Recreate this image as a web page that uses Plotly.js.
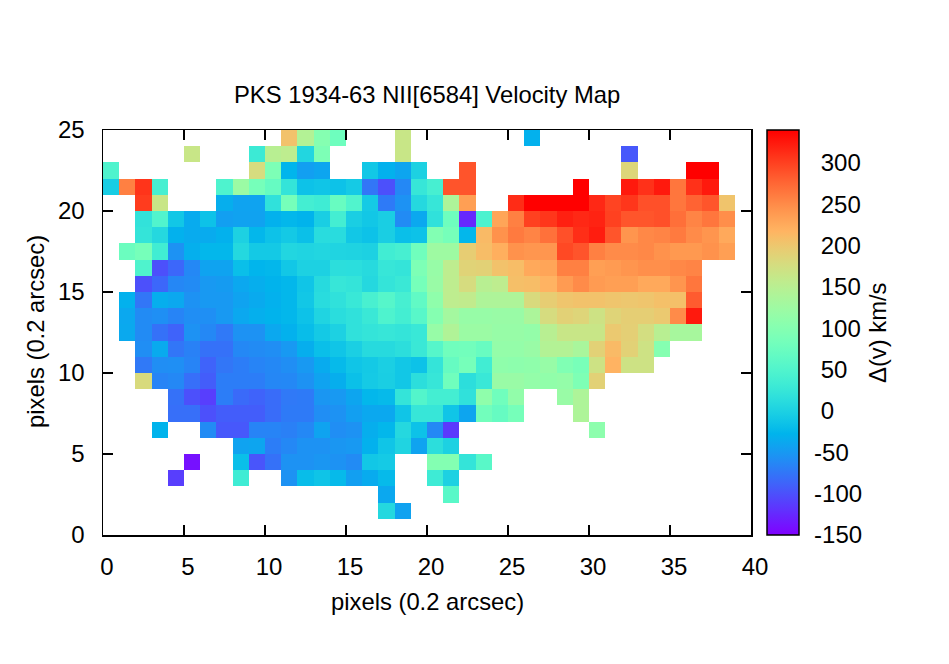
<!DOCTYPE html>
<html><head><meta charset="utf-8">
<script src="https://cdn.plot.ly/plotly-3.0.1.min.js"></script>
<style>html,body{margin:0;padding:0;background:#fff}#c{width:949px;height:664px}</style>
</head><body><div id="c"></div>
<script>
const n = null;
const row0  = [];
const row1  = [n,n,n,n,n,n,n,n,n,n,n,n,n,n,n,n,n,7,-43];
const row2  = [n,n,n,n,n,n,n,n,n,n,n,n,n,n,n,n,n,-38,n,n,n,58];
const row3  = [n,n,n,n,-112,n,n,n,33,n,n,-55,-20,-13,-22,-45,-35,-22,n,n,32,0];
const row4  = [n,n,n,n,n,-140,n,n,-18,-97,-78,-55,-55,-52,-55,-60,-10,-7,n,n,98,98,22,58];
const row5  = [n,n,n,n,n,n,n,n,-42,-40,-70,-62,-55,-55,-52,-50,-30,-12,3,-42,15,0];
const row6  = [n,n,n,-28,n,n,-60,-95,-95,-65,-65,-68,-62,-42,-58,-55,-33,-25,8,-15,-62,-115,n,n,n,n,n,n,n,n,108];
const row7  = [n,n,n,n,-80,-80,-100,-92,-92,-92,-82,-72,-72,-58,-55,-45,-38,-38,-12,25,25,-12,-40,82,70,85,n,n,n,140];
const row8  = [n,n,n,n,-78,-100,-112,-70,-83,-88,-82,-73,-72,-52,-50,-40,-25,-22,22,52,38,38,18,110,80,113,n,n,120,140];
const row9  = [n,n,180,-65,-62,-80,-92,-70,-70,-70,-63,-62,-55,-42,-33,-17,-7,-3,-10,15,25,80,15,27,120,120,115,112,115,93,190];
const row10 = [n,n,-73,-58,-57,-65,-88,-75,-70,-65,-62,-58,-50,-35,-22,-12,-8,-2,-10,-15,22,70,85,35,110,108,110,118,95,87,170,218,170,170];
const row11 = [n,n,-58,-36,-75,-67,-78,-78,-62,-60,-58,-50,-33,-18,-12,-2,10,10,15,28,55,80,82,72,115,115,120,145,145,135,190,212,190,170,100];
const row12 = [n,-37,-60,-78,-88,-55,-62,-73,-55,-55,-38,-30,-20,-8,0,18,22,25,22,27,118,142,122,122,118,118,115,150,165,165,165,198,192,175,150,133,133];
const row13 = [n,-38,-60,-57,-65,-58,-57,-50,-38,-32,-28,-25,-15,3,13,18,28,47,38,57,100,130,118,118,120,120,138,178,190,186,170,187,193,193,198,250,325];
const row14 = [n,-30,-75,-33,-38,-55,-50,-50,-42,-36,-30,-25,-10,12,18,27,42,55,40,65,110,155,158,140,140,140,180,195,202,205,205,202,200,202,207,207,283];
const row15 = [n,n,-100,-85,-63,-60,-50,-48,-38,-33,-28,-25,-12,10,25,22,8,22,28,85,120,155,178,150,155,208,210,218,238,250,238,235,235,227,227,243,265];
const row16 = [n,n,48,-100,-85,-62,-42,-42,-18,-27,-25,-10,0,0,15,14,10,25,22,92,118,155,188,190,205,210,227,230,258,258,235,238,243,247,247,252,255];
const row17 = [n,75,85,35,-55,-32,-25,-25,7,-8,-8,5,3,5,3,2,0,35,40,80,125,125,195,210,222,245,242,242,295,288,258,250,250,252,245,240,240,245,235];
const row18 = [n,n,22,8,-30,-35,-35,-30,0,-25,-15,-8,-17,12,12,-10,-15,-3,-18,-15,97,85,-25,212,245,262,255,268,290,312,322,287,243,252,255,262,250,243,227];
const row19 = [n,n,20,50,-10,-35,-15,-45,-43,-43,-30,-25,-28,-3,38,-3,-10,-3,-60,-38,18,78,-125,45,230,258,300,307,320,315,318,300,287,287,290,270,255,265,248];
const row20 = [n,n,303,165,n,n,n,-33,-42,-42,18,85,38,33,72,50,-7,-72,-55,8,25,140,235,n,n,313,340,340,340,340,315,298,307,290,290,265,278,287,203];
const row21 = [-5,258,308,40,n,n,n,47,122,85,70,22,-15,-12,-15,-7,-75,-100,-62,25,40,288,288,n,n,n,n,n,n,340,n,n,325,310,325,265,310,325];
const row22 = [48,n,n,n,n,n,n,n,n,178,92,-27,-45,-40,n,n,-10,-30,-40,0,n,n,288,n,n,n,n,n,n,n,n,n,185,n,n,n,340,340];
const row23 = [n,n,n,n,n,165,n,n,n,30,150,155,5,92,n,n,n,n,165,n,n,n,n,n,n,n,n,n,n,n,n,n,-95];
const row24 = [n,n,n,n,n,n,n,n,n,n,n,205,145,100,78,n,n,n,165,n,n,n,n,n,n,n,-30];

const rows = [row0,row1,row2,row3,row4,row5,row6,row7,row8,row9,row10,row11,row12,
              row13,row14,row15,row16,row17,row18,row19,row20,row21,row22,row23,row24];
const xTicks = [0,5,10,15,20,25,30,35,40];
const yTicks = [0,5,10,15,20,25];
const cbTicks = [-150,-100,-50,0,50,100,150,200,250,300];
const titleText = 'PKS 1934-63 NII[6584] Velocity Map';
const xTitle = 'pixels (0.2 arcsec)';
const yTitle = 'pixels (0.2 arcsec)';
const cbTitle = '\u0394(v) km/s';
const zMin = -150, zMax = 340;
const cols = 40;

// gnuplot "rgbformulae 33,13,10" palette
const colorscale = [];
for (let i = 0; i <= 64; i++) {
  const t = i / 64;
  const r = Math.min(1, Math.abs(2 * t - 0.5));
  const g = Math.sin(Math.PI * t);
  const b = Math.max(0, Math.cos(Math.PI * t / 2));
  colorscale.push([t, `rgb(${Math.round(r*255)},${Math.round(g*255)},${Math.round(b*255)})`]);
}

const z = rows.map(r => Array.from({length: cols}, (_, i) => (r[i] === undefined ? null : r[i])));
const W = 949, H = 664, L = 103, R = 751, T = 130, B = 535;
const pw = R - L, ph = B - T;
const fontFam = '"Liberation Sans", Arial, sans-serif';
const fs = 24, fsTitle = 23.8;
const cbX = (767 - L) / pw, cbW = 32 / pw;

const trace = {
  type: 'heatmap', z, x0: 0.5, dx: 1, y0: 0.5, dy: 1,
  zmin: zMin, zmax: zMax, colorscale, hoverongaps: false, xgap: 0, ygap: 0,
  colorbar: {
    x: cbX, xanchor: 'left', xref: 'paper', y: 0, yanchor: 'bottom', yref: 'paper',
    lenmode: 'fraction', len: 1, thicknessmode: 'pixels', thickness: cbW * pw,
    xpad: 0, ypad: 0, outlinecolor: '#000', outlinewidth: 1.5,
    tickmode: 'array', tickvals: cbTicks,
    ticktext: cbTicks.map(v => (v < 0 ? String(v) : '\u00A0' + v)),
    ticks: 'outside', ticklen: 10, tickwidth: 1, tickcolor: 'rgba(0,0,0,0)',
    tickfont: {family: fontFam, size: fs, color: '#000'}
  }
};

const axis = {
  showgrid: false, zeroline: false, showline: true, linecolor: '#000', linewidth: 1.5,
  mirror: 'ticks', ticks: 'inside', ticklen: 10, tickwidth: 1.5, tickcolor: '#000',
  tickfont: {family: fontFam, size: fs, color: '#000'}, automargin: false
};

// colour-box ticks on both inner edges
const cbTickLine = (v, a, b) => {
  const yy = (v - zMin) / (zMax - zMin);
  return {type: 'line', xref: 'paper', yref: 'paper', x0: a, x1: b, y0: yy, y1: yy,
          line: {color: '#000', width: 1.5}};
};
const shapes = [];
cbTicks.slice(1).forEach(v => {
  shapes.push(cbTickLine(v, cbX, cbX + 8 / pw));
  shapes.push(cbTickLine(v, cbX + cbW - 8 / pw, cbX + cbW));
});

const layout = {
  width: W, height: H, paper_bgcolor: '#fff', plot_bgcolor: '#fff',
  margin: {l: L, r: W - R, t: T, b: H - B, pad: 0},
  showlegend: false, shapes,
  xaxis: Object.assign({}, axis, {range: [0, 40], tickmode: 'array', tickvals: xTicks,
                       ticklabelshift: 4, ticklabelstandoff: 10}),
  yaxis: Object.assign({}, axis, {range: [0, 25], tickmode: 'array', tickvals: yTicks,
                       ticklabelstandoff: 12}),
  annotations: [
    {text: titleText, xref: 'paper', yref: 'paper', x: (427 - L) / pw, y: (B - 94.5) / ph, showarrow: false,
     xanchor: 'center', yanchor: 'middle', font: {family: fontFam, size: fsTitle, color: '#000'}},
    {text: xTitle, xref: 'paper', yref: 'paper', x: (427 - L) / pw, y: (B - 601) / ph, showarrow: false,
     xanchor: 'center', yanchor: 'middle', font: {family: fontFam, size: fsTitle, color: '#000'}},
    {text: yTitle, xref: 'paper', yref: 'paper', x: (35 - L) / pw, y: (B - 332) / ph, showarrow: false, textangle: -90,
     xanchor: 'center', yanchor: 'middle', font: {family: fontFam, size: fsTitle, color: '#000'}},
    {text: cbTitle, xref: 'paper', yref: 'paper', x: (877 - L) / pw, y: (B - 333) / ph, showarrow: false, textangle: -90,
     xanchor: 'center', yanchor: 'middle', font: {family: fontFam, size: fsTitle, color: '#000'}}
  ]
};

Plotly.newPlot('c', [trace], layout, {displayModeBar: false, staticPlot: true});
</script></body></html>
